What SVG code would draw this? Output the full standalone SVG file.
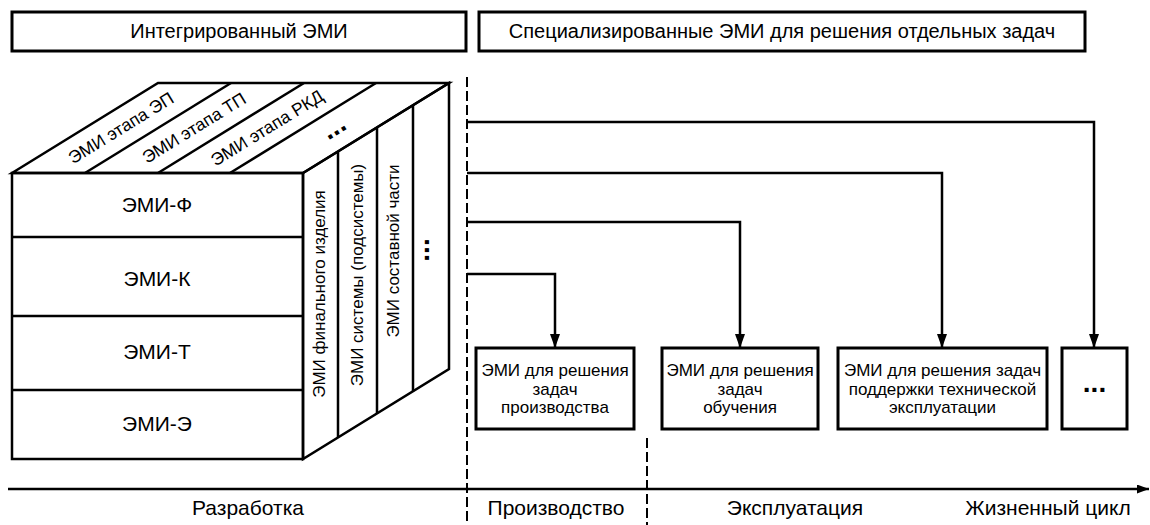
<svg xmlns="http://www.w3.org/2000/svg" width="1150" height="525" viewBox="0 0 1150 525">
<defs>
<style>
text{font-family:"Liberation Sans",Arial,sans-serif;fill:#000}
.box{fill:#fff;stroke:#000;stroke-width:3}
.ln{fill:none;stroke:#000;stroke-width:2.5;stroke-linejoin:miter}
.dash{fill:none;stroke:#000;stroke-width:2;stroke-dasharray:10,4}
.t20{font-size:20px;text-anchor:middle}
.t21{font-size:21px;text-anchor:middle}
.t17{font-size:17px;text-anchor:middle}
.t18{font-size:17.5px;text-anchor:middle}
.dots{font-size:28px;font-weight:bold;text-anchor:middle}
</style>
<marker id="ah" viewBox="0 0 14 10" refX="14" refY="5" markerWidth="14" markerHeight="10" markerUnits="userSpaceOnUse" orient="auto">
<path d="M0,0 L14,5 L0,10 Z" fill="#000"/>
</marker>
<marker id="ax" viewBox="0 0 12 9" refX="12" refY="4.5" markerWidth="12" markerHeight="9" markerUnits="userSpaceOnUse" orient="auto">
<path d="M0,0 L12,4.5 L0,9 Z" fill="#000"/>
</marker>
</defs>
<rect width="1150" height="525" fill="#fff"/>

<g id="header-integrated">
<rect class="box" x="12" y="12" width="454" height="39"/>
<text class="t20" x="239" y="38">Интегрированный ЭМИ</text>
</g>
<g id="header-specialized">
<rect class="box" x="479" y="12" width="606" height="39"/>
<text class="t20" x="782" y="38">Специализированные ЭМИ для решения отдельных задач</text>
</g>

<g id="cube">
<g id="cube-top">
<polygon class="ln" points="12,173 158,83 449,83 303,173"/>
<line class="ln" x1="85" y1="173" x2="231" y2="83"/>
<line class="ln" x1="158" y1="173" x2="304" y2="83"/>
<line class="ln" x1="230" y1="173" x2="376" y2="83"/>
<text class="t18" transform="translate(121,128) rotate(-31.65)" y="6">ЭМИ этапа ЭП</text>
<text class="t18" transform="translate(194,128) rotate(-31.65)" y="6">ЭМИ этапа ТП</text>
<text class="t18" transform="translate(267,128) rotate(-31.65)" y="6">ЭМИ этапа РКД</text>
<text class="dots" transform="translate(336,131) rotate(-31.65)" y="4">...</text>
</g>
<g id="cube-right">
<polygon class="ln" points="303,173 449,83 449,369 303,459"/>
<line class="ln" x1="338" y1="151.4" x2="338" y2="437.4"/>
<line class="ln" x1="377" y1="127.4" x2="377" y2="413.4"/>
<line class="ln" x1="413" y1="105.2" x2="413" y2="391.2"/>
<text class="t17" transform="translate(325,294) rotate(-90)">ЭМИ финального изделия</text>
<text class="t17" transform="translate(363,275) rotate(-90)">ЭМИ системы (подсистемы)</text>
<text class="t17" transform="translate(399,251) rotate(-90)">ЭМИ составной части</text>
<text class="dots" transform="translate(429,250) rotate(-90)" y="0">...</text>
</g>
<g id="cube-front">
<rect class="ln" x="12" y="173" width="291" height="286"/>
<line class="ln" x1="12" y1="237" x2="303" y2="237"/>
<line class="ln" x1="12" y1="316" x2="303" y2="316"/>
<line class="ln" x1="12" y1="390" x2="303" y2="390"/>
<text class="t21" x="157" y="212">ЭМИ-Ф</text>
<text class="t21" x="157" y="286">ЭМИ-К</text>
<text class="t21" x="157" y="359">ЭМИ-Т</text>
<text class="t21" x="157" y="431">ЭМИ-Э</text>
</g>
</g>

<g id="connectors">
<line class="dash" x1="467" y1="77" x2="467" y2="525"/>
<line class="dash" x1="647" y1="438" x2="647" y2="525"/>
<polyline class="ln" points="467,122 1094,122 1094,348" marker-end="url(#ah)"/>
<polyline class="ln" points="467,173 942,173 942,348" marker-end="url(#ah)"/>
<polyline class="ln" points="467,222 740,222 740,348" marker-end="url(#ah)"/>
<polyline class="ln" points="467,274 555,274 555,348" marker-end="url(#ah)"/>
<line class="ln" x1="8" y1="489" x2="1149" y2="489" marker-end="url(#ax)"/>
</g>

<g id="box-production">
<rect class="box" x="476" y="348" width="158" height="81"/>
<text class="t17" x="555" y="376">ЭМИ для решения</text>
<text class="t17" x="555" y="395">задач</text>
<text class="t17" x="555" y="413">производства</text>
</g>
<g id="box-training">
<rect class="box" x="662" y="348" width="156" height="81"/>
<text class="t17" x="740" y="376">ЭМИ для решения</text>
<text class="t17" x="740" y="395">задач</text>
<text class="t17" x="740" y="413">обучения</text>
</g>
<g id="box-operation">
<rect class="box" x="838" y="348" width="209" height="81"/>
<text class="t17" x="942.5" y="376">ЭМИ для решения задач</text>
<text class="t17" x="942.5" y="395">поддержки технической</text>
<text class="t17" x="942.5" y="413">эксплуатации</text>
</g>
<g id="box-more">
<rect class="box" x="1062" y="348" width="65" height="81"/>
<text class="dots" x="1094.5" y="392">...</text>
</g>

<g id="axis-labels">
<text class="t21" x="248" y="515">Разработка</text>
<text class="t21" x="556" y="515">Производство</text>
<text class="t21" x="795" y="515">Эксплуатация</text>
<text class="t21" x="1048" y="515">Жизненный цикл</text>
</g>
</svg>
